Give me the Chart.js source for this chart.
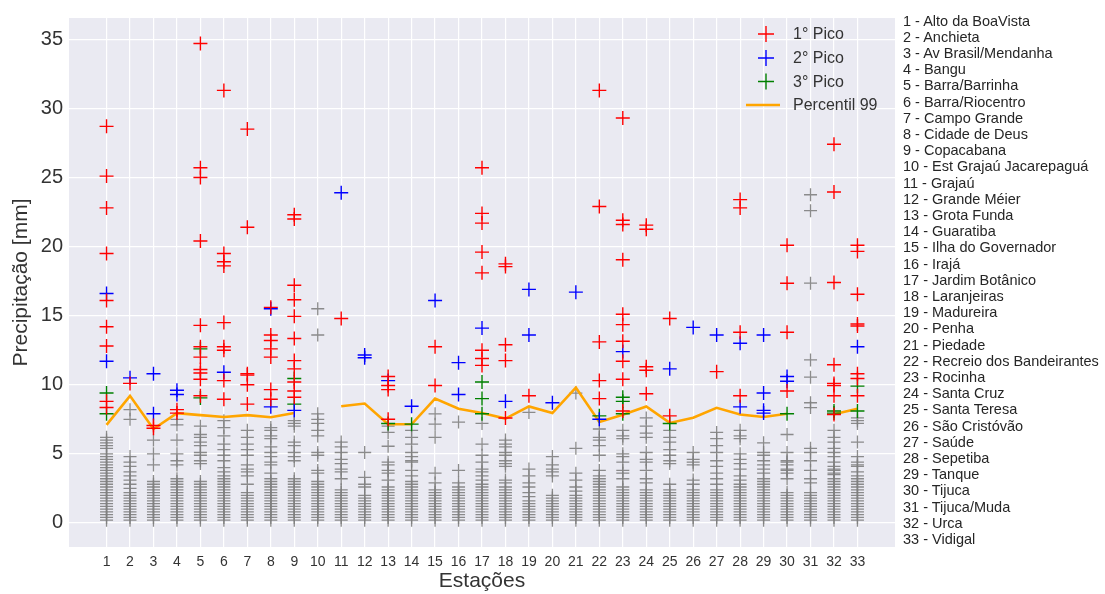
<!DOCTYPE html>
<html><head><meta charset="utf-8">
<script src="https://cdn.jsdelivr.net/npm/chart.js@4.4.0/dist/chart.umd.min.js"></script>
<style>
html,body{margin:0;padding:0;background:#fff;}
#wrap{position:relative;width:1105px;height:594px;overflow:hidden;}
#names{position:absolute;left:903px;top:12.6px;font:14.5px "Liberation Sans",Arial,sans-serif;color:#262626;line-height:16.2px;white-space:nowrap;}
</style></head><body>
<div id="wrap"><canvas id="c" width="1105" height="594"></canvas><div id="names"></div></div>
<script>
const stations = [1,2,3,4,5,6,7,8,9,10,11,12,13,14,15,16,17,18,19,20,21,22,23,24,25,26,27,28,29,30,31,32,33];
const stationNames = ["Alto da BoaVista","Anchieta","Av Brasil/Mendanha","Bangu","Barra/Barrinha","Barra/Riocentro","Campo Grande","Cidade de Deus","Copacabana","Est Grajaú Jacarepaguá","Grajaú","Grande Méier","Grota Funda","Guaratiba","Ilha do Governador","Irajá","Jardim Botânico","Laranjeiras","Madureira","Penha","Piedade","Recreio dos Bandeirantes","Rocinha","Santa Cruz","Santa Teresa","São Cristóvão","Saúde","Sepetiba","Tanque","Tijuca","Tijuca/Muda","Urca","Vidigal"];
const yTicks = [0,5,10,15,20,25,30,35];

const pico1 = [
 [28.7,25.1,22.8,19.5,16.1,14.2,12.8,8.8,8.35],
 [10.1],
 [7.05,6.85],
 [8.2,7.95],
 [34.7,25.7,25.0,20.4,14.3,12.75,12.0,11.1,10.85,10.4,9.2],
 [31.3,19.5,18.9,18.6,14.5,12.75,12.5,10.3,8.95],
 [28.5,21.4,10.8,10.7,10.0,8.6],
 [15.6,13.6,13.2,12.6,12.0,9.65,8.95],
 [22.3,22.0,17.2,16.15,14.95,13.35,11.75,11.15,10.2,9.55,9.1],
 [],
 [14.8],
 [],
 [10.6,9.95,9.65,7.5],
 [],
 [12.75,9.95],
 [],
 [25.7,22.4,21.7,19.6,18.1,12.5,11.9,11.4],
 [18.75,18.55,12.9,11.75,7.6],
 [9.2],
 [],
 [],
 [31.3,22.9,13.1,10.3,9.0],
 [29.3,21.9,21.6,19.05,15.1,14.35,13.15,11.7,10.4,8.1],
 [21.55,21.25,11.3,11.05,9.35],
 [14.8,7.75],
 [],
 [10.95],
 [23.4,22.8,13.8,9.2],
 [],
 [20.1,17.35,13.8,9.55],
 [],
 [27.4,23.95,17.4,11.45,10.1,9.95,9.2,7.85],
 [20.1,19.65,16.55,14.4,14.25,10.8,10.45,9.2]
];
const pico2 = [
 [16.6,11.7],[10.5],[10.8,7.9],[9.6,9.3],[],[10.9],[],[15.5,8.4],[8.15],[],
 [23.9],[12.15,11.95],[10.3],[8.45],[16.1],[11.6,9.3],[14.1],[8.8],[16.9,13.6],[8.7],
 [16.7],[7.5],[12.4],[],[11.15],[14.15],[13.6],[13.0,8.4],[13.6,9.4,8.15,7.95],[10.6,10.25],
 [],[],[12.75]
];
const pico3 = [
 [9.4,7.9],[],[],[],[12.6,9.05],[],[],[],[10.45,8.6],[],
 [],[],[7.2],[7.15],[],[],[10.2,9.0,7.9],[],[],[],
 [],[7.75],[9.1,8.8,7.9],[],[7.2],[],[],[],[],[7.9],
 [],[8.1,7.95],[9.9,8.1]
];
const percentil99 = [7.1,9.2,6.8,7.95,7.8,7.67,7.8,7.65,7.95,null,8.45,8.64,7.14,7.14,9.0,8.26,7.95,7.55,8.43,7.95,9.8,7.3,7.83,8.43,7.24,7.62,8.33,7.85,7.67,7.9,null,7.86,8.26];
const demais = [
 [0.2,0.4,0.6,0.8,1.0,1.2,1.4,1.6,1.8,2.0,2.2,2.4,2.6,2.8,3.0,3.2,3.4,3.6,3.8,4.0,4.2,4.4,4.6,4.8,5.0,5.4,5.6,5.8,6.0,6.2],
 [0.2,0.4,0.6,0.8,1.0,1.2,1.4,1.6,1.8,2.0,2.2,2.5,2.8,3.1,3.4,3.7,4.1,4.4,4.8,7.5,8.2],
 [0.2,0.4,0.6,0.8,1.0,1.2,1.4,1.6,1.8,2.0,2.2,2.4,2.6,2.8,3.0,4.2,5.0,6.0],
 [0.2,0.4,0.6,0.8,1.0,1.2,1.4,1.6,1.8,2.0,2.2,2.4,2.6,2.8,3.0,3.2,4.2,4.5,5.0,6.0,7.1,7.5],
 [0.2,0.4,0.6,0.8,1.0,1.2,1.4,1.6,1.8,2.0,2.2,2.4,2.6,2.8,3.0,4.3,4.5,4.9,5.1,5.6,5.85,6.2,6.4,7.0],
 [0.2,0.4,0.6,0.8,1.0,1.2,1.4,1.6,1.8,2.0,2.2,2.4,2.6,2.8,3.0,3.2,3.4,3.7,4.0,4.5,4.9,5.3,5.7,6.3,6.9,7.4],
 [0.2,0.4,0.6,0.8,1.0,1.2,1.4,1.6,1.8,2.0,2.2,2.8,3.4,3.7,3.9,4.2,4.9,5.3,5.7,6.2,6.7],
 [0.2,0.4,0.6,0.8,1.0,1.2,1.4,1.6,1.8,2.0,2.2,2.4,2.6,2.8,3.0,3.2,3.6,4.2,4.4,4.8,5.1,5.5,6.1,6.3,6.7,6.9],
 [0.2,0.4,0.6,0.8,1.0,1.2,1.4,1.6,1.8,2.0,2.2,2.4,2.6,2.8,3.0,3.2,4.5,4.8,5.1,5.6,5.85,7.0,7.2,7.4],
 [0.2,0.4,0.6,0.8,1.0,1.2,1.4,1.6,1.8,2.0,2.2,2.4,2.6,2.8,3.0,3.6,3.8,4.9,5.1,6.3,6.7,7.2,7.5,7.9,13.6,15.5],
 [0.2,0.4,0.6,0.8,1.0,1.2,1.4,1.6,1.8,2.0,2.2,2.4,3.2,3.7,3.9,4.3,4.6,5.1,5.5,5.85],
 [0.2,0.4,0.6,0.8,1.0,1.2,1.4,1.6,1.8,2.0,2.6,2.8,3.3,5.1],
 [0.2,0.4,0.6,0.8,1.0,1.2,1.4,1.6,1.8,2.0,2.2,2.4,2.6,3.1,3.6,3.8,4.2,4.4,5.55,6.55,7.0],
 [0.2,0.4,0.6,0.8,1.0,1.2,1.4,1.6,1.8,2.0,2.2,2.4,2.6,2.8,3.0,3.4,3.8,4.4,4.5,4.8,5.1,5.7,6.2,6.7],
 [0.2,0.4,0.6,0.8,1.0,1.2,1.4,1.6,1.8,2.0,2.2,2.4,2.9,3.6,6.2,7.15,7.9],
 [0.2,0.4,0.6,0.8,1.0,1.2,1.4,1.6,1.8,2.0,2.2,2.4,2.6,2.9,3.8,7.3],
 [0.2,0.4,0.6,0.8,1.0,1.2,1.4,1.6,1.8,2.0,2.2,2.4,2.6,2.8,3.1,3.4,3.7,3.9,4.4,4.9,5.7,7.2],
 [0.2,0.4,0.6,0.8,1.0,1.2,1.4,1.6,1.8,2.0,2.2,2.4,2.6,2.9,3.1,4.1,4.3,4.5,4.9,5.1,5.5,5.7,6.0],
 [0.2,0.4,0.6,0.8,1.0,1.2,1.4,1.6,1.9,2.2,2.6,2.9,3.4,3.9,8.0],
 [0.2,0.4,0.6,0.8,1.0,1.2,1.4,1.6,1.8,2.0,3.4,3.7,3.9,4.2,4.8],
 [0.2,0.4,0.6,0.8,1.0,1.2,1.4,1.6,1.8,2.0,2.3,2.6,3.1,3.6,5.4,9.4],
 [0.2,0.4,0.6,0.8,1.0,1.2,1.4,1.6,1.8,2.0,2.2,2.4,2.6,2.8,3.0,3.2,3.4,3.8,4.9,5.6,6.0,6.2,6.8],
 [0.2,0.4,0.6,0.8,1.0,1.2,1.4,1.6,1.8,2.0,2.2,2.4,2.6,3.2,3.6,3.8,4.4,4.8,5.0,6.1,6.3,6.7],
 [0.2,0.4,0.6,0.8,1.0,1.2,1.4,1.6,1.8,2.0,2.2,2.4,2.9,3.2,3.8,4.4,4.6,5.1,6.2,6.5,7.0,7.6],
 [0.2,0.4,0.6,0.8,1.0,1.2,1.4,1.6,1.8,2.0,2.2,2.4,2.8,4.3,4.5,4.9,5.3,5.85,6.2,6.7],
 [0.2,0.4,0.6,0.8,1.0,1.2,1.4,1.6,1.8,2.0,2.2,2.4,2.8,3.1,4.2,4.4,4.6,5.1],
 [0.2,0.4,0.6,0.8,1.0,1.2,1.4,1.6,1.8,2.0,2.2,2.4,2.8,3.2,3.6,4.1,4.5,5.1,5.6,6.1,6.55],
 [0.2,0.4,0.6,0.8,1.0,1.2,1.4,1.6,1.8,2.0,2.2,2.4,2.6,2.8,3.1,3.4,3.9,4.3,4.6,5.0,6.1,6.3,6.7],
 [0.2,0.4,0.6,0.8,1.0,1.2,1.4,1.6,1.8,2.0,2.2,2.4,2.6,2.8,3.0,3.2,3.6,3.9,4.2,4.5,4.9,5.1,5.8],
 [0.2,0.4,0.6,0.8,1.0,1.2,1.4,1.6,1.8,2.0,2.2,3.2,3.6,3.8,3.9,4.2,4.4,4.5,5.1,6.4],
 [0.2,0.4,0.6,0.8,1.0,1.2,1.4,1.6,1.8,2.0,2.2,2.9,3.2,3.8,4.5,5.1,5.4,8.35,8.7,10.55,11.8,17.35,22.6,23.75],
 [0.2,0.4,0.6,0.8,1.0,1.2,1.4,1.6,1.8,2.0,2.2,2.4,2.6,2.8,3.0,3.2,3.5,3.6,3.8,3.9,4.1,4.4,4.8,5.1,5.4,5.85,6.2,6.7],
 [0.2,0.4,0.6,0.8,1.0,1.2,1.4,1.6,1.8,2.0,2.2,2.4,2.6,2.8,3.0,3.2,3.4,3.7,4.1,4.2,4.4,4.8,5.85,7.2,7.4,7.6]
];

document.getElementById('names').innerHTML = stationNames.map((n,i)=>`<div>${stations[i]} - ${n}</div>`).join('');

const FONT = '"Liberation Sans", Arial, sans-serif';
function pts(lists){ const out=[]; lists.forEach((l,i)=>l.forEach(v=>out.push({x:stations[i],y:v}))); return out; }

const bgPlugin = {
  id:'bg',
  beforeDraw(chart){
    const {ctx, chartArea:a} = chart;
    ctx.save(); ctx.fillStyle='#EAEAF2'; ctx.fillRect(a.left,a.top,a.right-a.left,a.bottom-a.top); ctx.restore();
  }
};
const legendPlugin = {
  id:'customLegend',
  afterDraw(chart){
    const ctx = chart.ctx;
    const rows = [34,58,81.5,105];
    ctx.save();
    ctx.font = '16px '+FONT; ctx.textBaseline='middle'; ctx.textAlign='left';
    [0,1,2,3].forEach((di,k)=>{
      const ds = chart.data.datasets[di]; const y = rows[k];
      ctx.strokeStyle = ds.borderColor;
      ctx.beginPath();
      if (di<3){ ctx.lineWidth=1.4; ctx.moveTo(758,y); ctx.lineTo(774,y); ctx.moveTo(766,y-8); ctx.lineTo(766,y+8); }
      else { ctx.lineWidth=2.5; ctx.moveTo(746,y); ctx.lineTo(780,y); }
      ctx.stroke();
      ctx.fillStyle='#333'; ctx.fillText(ds.label, 793, y+1);
    });
    ctx.restore();
  }
};

new Chart(document.getElementById('c'), {
  type:'scatter',
  data:{datasets:[
    {label:'1° Pico', data:pts(pico1), pointStyle:'cross', pointRadius:7, borderColor:'#ff0000', backgroundColor:'#ff0000', borderWidth:1.4},
    {label:'2° Pico', data:pts(pico2), pointStyle:'cross', pointRadius:7, borderColor:'#0000ff', backgroundColor:'#0000ff', borderWidth:1.4},
    {label:'3° Pico', data:pts(pico3), pointStyle:'cross', pointRadius:7, borderColor:'#008000', backgroundColor:'#008000', borderWidth:1.4},
    {label:'Percentil 99', data:percentil99.map((v,i)=>({x:stations[i],y:v})), showLine:true, spanGaps:false, pointRadius:0, borderColor:'#FFA500', backgroundColor:'#FFA500', borderWidth:2.6, fill:false},
    {label:'demais', data:pts(demais), pointStyle:'cross', pointRadius:6.5, borderColor:'rgba(128,128,128,0.9)', backgroundColor:'rgba(128,128,128,0.9)', borderWidth:1.3}
  ]},
  options:{
    responsive:false, animation:false,
    layout:{padding:{left:0,right:210,top:12,bottom:0}},
    plugins:{legend:{display:false}, tooltip:{enabled:false}},
    scales:{
      x:{type:'linear', min:-0.6, max:34.6,
         afterBuildTicks:s=>{s.ticks=stations.map(v=>({value:v}));},
         afterFit:s=>{s.height=47;},
         grid:{color:'#ffffff', lineWidth:1.2, drawTicks:false},
         border:{display:false},
         ticks:{font:{size:14,family:FONT}, color:'#333', padding:7, maxRotation:0, autoSkip:false, callback:v=>String(v)},
         title:{display:true, text:'Estações', font:{size:21,family:FONT}, color:'#333', padding:{top:0,bottom:0}}},
      y:{type:'linear', min:-1.74, max:36.54,
         afterBuildTicks:s=>{s.ticks=yTicks.map(v=>({value:v}));},
         afterFit:s=>{s.width=69;},
         grid:{color:'#ffffff', lineWidth:1.2, drawTicks:false},
         border:{display:false},
         ticks:{font:{size:20,family:FONT}, color:'#333', padding:6, callback:v=>String(v)},
         title:{display:true, text:'Precipitação [mm]', font:{size:21,family:FONT}, color:'#333', padding:{top:9,bottom:0}}}
    }
  },
  plugins:[bgPlugin, legendPlugin]
});
</script>
</body></html>
